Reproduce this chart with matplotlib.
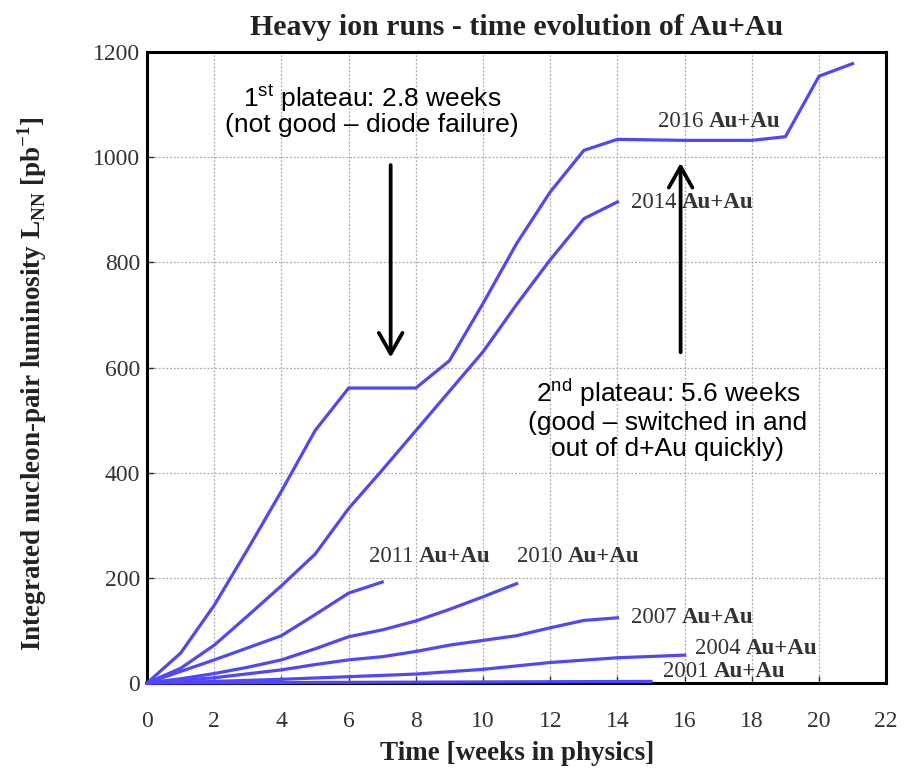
import matplotlib.pyplot as plt

# Integrated luminosity vs. weeks in physics for each Au+Au run
weeks_2016 = [0, 1, 2, 3, 4, 5, 6, 8, 9, 10, 11, 12, 13, 14, 16, 18, 19, 20, 21]
lumi_2016 = [0, 57, 148, 255, 365, 480, 561, 561, 613, 722, 836, 934, 1013, 1034, 1032, 1032, 1039, 1154, 1178]

weeks_2014 = [0, 1, 2, 3, 4, 5, 6, 7, 8, 9, 10, 11, 12, 13, 14]
lumi_2014 = [0, 28, 72, 128, 185, 245, 332, 405, 480, 555, 630, 720, 805, 883, 915]

weeks_2011 = [0, 1, 2, 3, 4, 5, 6, 7]
lumi_2011 = [0, 22, 44, 67, 90, 130, 171, 192]

weeks_2010 = [0, 1, 2, 3, 4, 5, 6, 7, 8, 9, 10, 11]
lumi_2010 = [0, 8, 18, 30, 44, 65, 88, 101, 118, 140, 164, 189]

weeks_2007 = [0, 2, 4, 5, 6, 7, 8, 9, 10, 11, 12, 13, 14]
lumi_2007 = [0, 10, 25, 35, 44, 50, 60, 72, 81, 90, 105, 119, 124]

weeks_2004 = [0, 2, 4, 6, 8, 10, 12, 14, 16]
lumi_2004 = [0, 3, 7, 12, 17, 26, 39, 48, 53]

weeks_2001 = [0, 5, 10, 15]
lumi_2001 = [0, 1, 2, 3]

runs = ["2016", "2014", "2011", "2010", "2007", "2004", "2001"]
label_pos = {
    "2016": (15.2, 1068), "2014": (14.4, 914), "2011": (6.6, 240),
    "2010": (11.0, 240), "2007": (14.4, 124), "2004": (16.3, 65),
    "2001": (15.35, 21),
}

serif = "Liberation Serif"
sans = "Liberation Sans"
line_color = "#5046ff"

fig = plt.figure(figsize=(9.08, 7.72), dpi=100)
ax = fig.add_axes([0.162, 0.1153, 0.814, 0.8173])

series = [
    (weeks_2016, lumi_2016), (weeks_2014, lumi_2014), (weeks_2011, lumi_2011),
    (weeks_2010, lumi_2010), (weeks_2007, lumi_2007), (weeks_2004, lumi_2004),
    (weeks_2001, lumi_2001),
]
for x, y in series:
    ax.plot(x, y, color=line_color, lw=2.3, solid_joinstyle="round", clip_on=False, zorder=3)

ax.set_xlim(0, 22)
ax.set_ylim(0, 1200)
ax.set_xticks(range(0, 23, 2))
ax.set_yticks(range(0, 1201, 200))
ax.grid(True, color="#aaaaaa", ls=(0, (1.5, 1.5)), lw=0.9)
ax.tick_params(direction="in", length=5, width=1, colors="#333333", labelsize=17)
ax.tick_params(axis="x", pad=20)
ax.tick_params(axis="y", pad=5)
for lab in ax.get_xticklabels() + ax.get_yticklabels():
    lab.set_family(serif)
for sp in ax.spines.values():
    sp.set_linewidth(2.2)

ax.set_title("Heavy ion runs - time evolution of Au+Au", family=serif, fontweight="bold",
             fontsize=21.5, color="#222222", pad=12)
ax.set_xlabel("Time [weeks in physics]", family=serif, fontweight="bold", fontsize=19.5,
              color="#222222", labelpad=7)
ax.set_ylabel(r"Integrated nucleon-pair luminosity L$_{\mathregular{NN}}$ [pb$^{\mathregular{-1}}$]",
              family=serif, fontweight="bold", fontsize=19.5, color="#222222", labelpad=32,
              y=0.475)

# run labels: year in regular weight, species in bold
for run in runs:
    lx, ly = label_pos[run]
    t = ax.text(lx, ly, run + " ", family=serif, fontsize=16.5, color="#333333", va="center")
    ax.annotate("Au+Au", xy=(1, 0.5), xycoords=t, va="center", ha="left",
                family=serif, fontsize=16.5, fontweight="bold", color="#333333")

# plateau annotations
arrow = dict(arrowstyle="->,head_length=1.5,head_width=0.85", lw=2.7, color="black",
             shrinkA=0, shrinkB=0)
ax.text(6.7, 1090, "1$^{\\mathregular{st}}$ plateau: 2.8 weeks\n(not good – diode failure)",
        family=sans, fontsize=19, ha="center", va="center", linespacing=0.95)
ax.annotate("", xy=(7.25, 619), xytext=(7.25, 985), arrowprops=arrow)

ax.text(15.5, 503, "2$^{\\mathregular{nd}}$ plateau: 5.6 weeks\n(good – switched in and\nout of d+Au quickly)",
        family=sans, fontsize=19, ha="center", va="center", linespacing=1.1)
ax.annotate("", xy=(15.88, 989), xytext=(15.88, 629), arrowprops=arrow)

fig.savefig("out.png", dpi=100)
